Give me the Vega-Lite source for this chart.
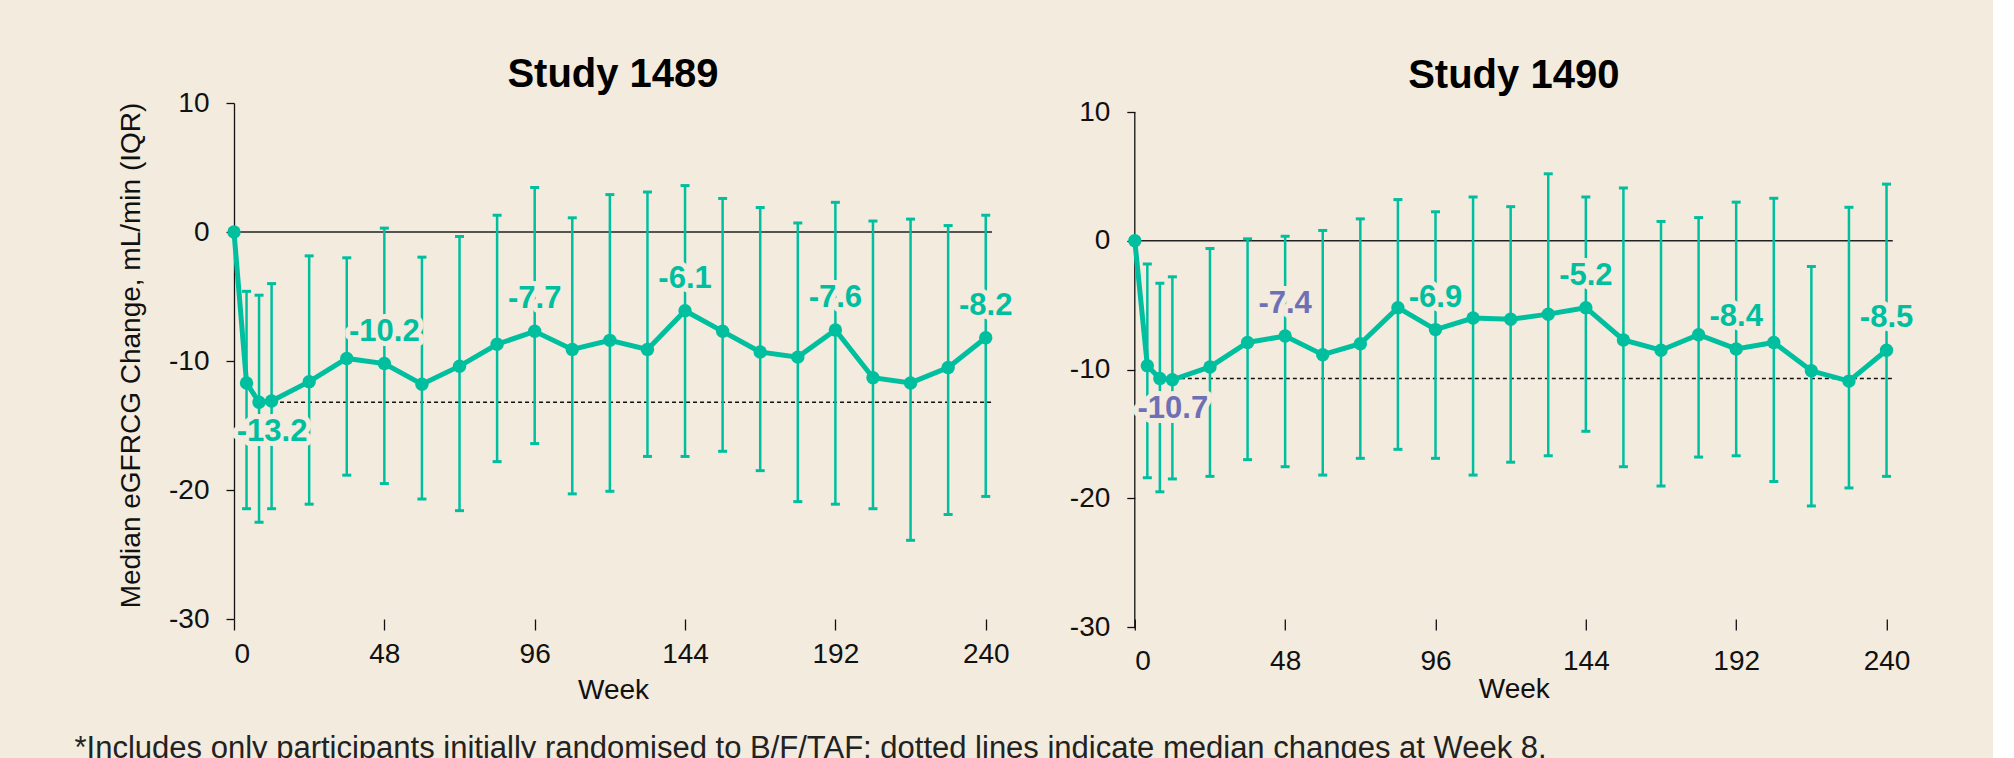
{
  "$schema": "https://vega.github.io/schema/vega-lite/v6.json",
  "background": "#F3EBDE",
  "padding": {"left": 74, "top": 55, "right": 79, "bottom": 0},
  "spacing": 55.8,
  "title": {
    "text": "*Includes only participants initially randomised to B/F/TAF; dotted lines indicate median changes at Week 8.",
    "orient": "bottom", "anchor": "start", "fontSize": 31, "fontWeight": "normal",
    "font": "Liberation Sans", "color": "#222222", "baseline": "top", "offset": 30, "dx": -43
  },
  "config": {
    "view": {"stroke": null},
    "font": "Liberation Sans",
    "axis": {
      "grid": false, "labelFontSize": 28, "labelColor": "#111111", "titleFontSize": 28,
      "titleFontWeight": "normal", "titleColor": "#111111", "tickColor": "#111111",
      "domainColor": "#111111", "tickWidth": 1.3, "domainWidth": 1.3, "labelFont": "Liberation Sans", "titleFont": "Liberation Sans"
    },
    "title": {"font": "Liberation Sans", "color": "#000000"}
  },
  "datasets": {
    "s1489": [
      {"week": 0, "median": 0},
      {"week": 4, "median": -11.7, "low": -21.45, "high": -4.6},
      {"week": 8, "median": -13.2, "low": -22.5, "high": -4.9, "label": "-13.2", "side": "below", "highlight": false},
      {"week": 12, "median": -13.1, "low": -21.45, "high": -4.0},
      {"week": 24, "median": -11.6, "low": -21.1, "high": -1.85},
      {"week": 36, "median": -9.8, "low": -18.85, "high": -2.0},
      {"week": 48, "median": -10.2, "low": -19.5, "high": 0.3, "label": "-10.2", "side": "above", "highlight": false},
      {"week": 60, "median": -11.8, "low": -20.7, "high": -1.95},
      {"week": 72, "median": -10.4, "low": -21.6, "high": -0.35},
      {"week": 84, "median": -8.7, "low": -17.8, "high": 1.3},
      {"week": 96, "median": -7.7, "low": -16.4, "high": 3.45, "label": "-7.7", "side": "above", "highlight": false},
      {"week": 108, "median": -9.1, "low": -20.3, "high": 1.1},
      {"week": 120, "median": -8.4, "low": -20.1, "high": 2.9},
      {"week": 132, "median": -9.1, "low": -17.4, "high": 3.1},
      {"week": 144, "median": -6.1, "low": -17.4, "high": 3.6, "label": "-6.1", "side": "above", "highlight": false},
      {"week": 156, "median": -7.7, "low": -17.0, "high": 2.6},
      {"week": 168, "median": -9.3, "low": -18.5, "high": 1.9},
      {"week": 180, "median": -9.7, "low": -20.9, "high": 0.7},
      {"week": 192, "median": -7.6, "low": -21.1, "high": 2.3, "label": "-7.6", "side": "above", "highlight": false},
      {"week": 204, "median": -11.3, "low": -21.45, "high": 0.85},
      {"week": 216, "median": -11.7, "low": -23.9, "high": 1.0},
      {"week": 228, "median": -10.5, "low": -21.9, "high": 0.5},
      {"week": 240, "median": -8.2, "low": -20.5, "high": 1.3, "label": "-8.2", "side": "above", "highlight": false}
    ],
    "s1490": [
      {"week": 0, "median": 0},
      {"week": 4, "median": -9.7, "low": -18.4, "high": -1.8},
      {"week": 8, "median": -10.7, "low": -19.5, "high": -3.3, "label": "-10.7", "side": "below", "highlight": true},
      {"week": 12, "median": -10.8, "low": -18.5, "high": -2.8},
      {"week": 24, "median": -9.8, "low": -18.3, "high": -0.6},
      {"week": 36, "median": -7.9, "low": -17.0, "high": 0.15},
      {"week": 48, "median": -7.4, "low": -17.55, "high": 0.35, "label": "-7.4", "side": "above", "highlight": true},
      {"week": 60, "median": -8.85, "low": -18.2, "high": 0.8},
      {"week": 72, "median": -8.0, "low": -16.9, "high": 1.7},
      {"week": 84, "median": -5.2, "low": -16.2, "high": 3.2},
      {"week": 96, "median": -6.9, "low": -16.9, "high": 2.25, "label": "-6.9", "side": "above", "highlight": false},
      {"week": 108, "median": -6.0, "low": -18.2, "high": 3.4},
      {"week": 120, "median": -6.1, "low": -17.2, "high": 2.65},
      {"week": 132, "median": -5.7, "low": -16.7, "high": 5.2},
      {"week": 144, "median": -5.2, "low": -14.8, "high": 3.4, "label": "-5.2", "side": "above", "highlight": false},
      {"week": 156, "median": -7.7, "low": -17.55, "high": 4.1},
      {"week": 168, "median": -8.5, "low": -19.05, "high": 1.5},
      {"week": 180, "median": -7.3, "low": -16.8, "high": 1.8},
      {"week": 192, "median": -8.4, "low": -16.7, "high": 3.0, "label": "-8.4", "side": "above", "highlight": false},
      {"week": 204, "median": -7.9, "low": -18.7, "high": 3.3},
      {"week": 216, "median": -10.1, "low": -20.6, "high": -2.0},
      {"week": 228, "median": -10.9, "low": -19.2, "high": 2.6},
      {"week": 240, "median": -8.5, "low": -18.3, "high": 4.4, "label": "-8.5", "side": "above", "highlight": false}
    ]
  },
  "hconcat": [
    {
      "width": 758, "height": 516,
      "data": {"name": "s1489"},
      "title": {"text": "Study 1489", "fontSize": 40, "fontWeight": "bold", "baseline": "alphabetic", "offset": -38, "anchor": "middle"},
      "layer": [
        {
          "data": {"values": [{}]},
          "mark": {"type": "rule", "color": "#222222", "strokeWidth": 1.3},
          "encoding": {"y": {"datum": 0, "type": "quantitative", "scale": {"domain": [-30, 10], "nice": false, "zero": false},
            "axis": {"values": [-30, -20, -10, 0, 10], "labelExpr": "datum.value + ''", "title": "Median eGFRCG Change, mL/min (IQR)", "titlePadding": 23, "titleY": 252, "tickSize": 8, "labelPadding": 17}}}
        },
        {
          "data": {"values": [{}]},
          "mark": {"type": "rule", "color": "#111111", "strokeWidth": 1.5, "strokeDash": [4, 3]},
          "encoding": {
            "x": {"datum": 8, "type": "quantitative", "scale": {"domain": [0, 242], "nice": false, "zero": false},
              "axis": {"values": [0, 48, 96, 144, 192, 240], "domain": false, "tickSize": 11, "labelPadding": 10, "title": "Week", "titlePadding": 8}},
            "x2": {"datum": 242},
            "y": {"datum": -13.2, "type": "quantitative"}
          }
        },
        {
          "mark": {"type": "rule", "color": "#00BF9F", "strokeWidth": 2.5},
          "encoding": {
            "x": {"field": "week", "type": "quantitative"},
            "y": {"field": "low", "type": "quantitative"},
            "y2": {"field": "high"}
          }
        },
        {
          "mark": {"type": "tick", "orient": "horizontal", "color": "#00BF9F", "size": 9, "thickness": 3, "opacity": 1},
          "encoding": {"x": {"field": "week", "type": "quantitative"}, "y": {"field": "low", "type": "quantitative"}}
        },
        {
          "mark": {"type": "tick", "orient": "horizontal", "color": "#00BF9F", "size": 9, "thickness": 3, "opacity": 1},
          "encoding": {"x": {"field": "week", "type": "quantitative"}, "y": {"field": "high", "type": "quantitative"}}
        },
        {
          "mark": {"type": "line", "color": "#00BF9F", "strokeWidth": 5},
          "encoding": {"x": {"field": "week", "type": "quantitative"}, "y": {"field": "median", "type": "quantitative"}}
        },
        {
          "mark": {"type": "circle", "color": "#00BF9F", "size": 180, "opacity": 1},
          "encoding": {"x": {"field": "week", "type": "quantitative"}, "y": {"field": "median", "type": "quantitative"}}
        },
        {
          "transform": [{"filter": "datum.side == 'above'"}],
          "mark": {"type": "text", "fontSize": 31, "fontWeight": "bold", "baseline": "alphabetic", "align": "center", "dy": -23, "fill": "#F3EBDE", "stroke": "#F3EBDE", "strokeWidth": 10, "strokeJoin": "round"},
          "encoding": {"x": {"field": "week", "type": "quantitative"}, "y": {"field": "median", "type": "quantitative"}, "text": {"field": "label"}}
        },
        {
          "transform": [{"filter": "datum.side == 'above'"}],
          "mark": {"type": "text", "fontSize": 31, "fontWeight": "bold", "baseline": "alphabetic", "align": "center", "dy": -23},
          "encoding": {"x": {"field": "week", "type": "quantitative"}, "y": {"field": "median", "type": "quantitative"}, "text": {"field": "label"},
            "color": {"condition": {"test": "datum.highlight", "value": "#6E70B6"}, "value": "#00BF9F"}}
        },
        {
          "transform": [{"filter": "datum.side == 'below'"}],
          "mark": {"type": "text", "fontSize": 31, "fontWeight": "bold", "baseline": "alphabetic", "align": "center", "dy": 39, "dx": 13, "fill": "#F3EBDE", "stroke": "#F3EBDE", "strokeWidth": 10, "strokeJoin": "round"},
          "encoding": {"x": {"field": "week", "type": "quantitative"}, "y": {"field": "median", "type": "quantitative"}, "text": {"field": "label"}}
        },
        {
          "transform": [{"filter": "datum.side == 'below'"}],
          "mark": {"type": "text", "fontSize": 31, "fontWeight": "bold", "baseline": "alphabetic", "align": "center", "dy": 39, "dx": 13},
          "encoding": {"x": {"field": "week", "type": "quantitative"}, "y": {"field": "median", "type": "quantitative"}, "text": {"field": "label"},
            "color": {"condition": {"test": "datum.highlight", "value": "#6E70B6"}, "value": "#00BF9F"}}
        }
      ]
    },
    {
      "width": 758, "height": 524,
      "data": {"name": "s1490"},
      "title": {"text": "Study 1490", "fontSize": 40, "fontWeight": "bold", "baseline": "alphabetic", "offset": -30, "anchor": "middle"},
      "layer": [
        {
          "data": {"values": [{}]},
          "mark": {"type": "rule", "color": "#222222", "strokeWidth": 1.3},
          "encoding": {"y": {"datum": 0, "type": "quantitative", "scale": {"domain": [-30, 10.7], "nice": false, "zero": false},
            "axis": {"values": [-30, -20, -10, 0, 10], "labelExpr": "datum.value + ''", "title": null, "domain": false, "tickSize": 8, "labelPadding": 17}}}
        },
        {
          "data": {"values": [{}]},
          "mark": {"type": "rule", "color": "#111111", "strokeWidth": 1.3},
          "encoding": {"x": {"datum": 0, "type": "quantitative"}, "y": {"datum": -30, "type": "quantitative"}, "y2": {"datum": 10}}
        },
        {
          "data": {"values": [{}]},
          "mark": {"type": "rule", "color": "#111111", "strokeWidth": 1.5, "strokeDash": [4, 3]},
          "encoding": {
            "x": {"datum": 8, "type": "quantitative", "scale": {"domain": [0, 242], "nice": false, "zero": false},
              "axis": {"values": [0, 48, 96, 144, 192, 240], "domain": false, "tickSize": 11, "offset": -8, "labelPadding": 17, "title": "Week", "titlePadding": 0}},
            "x2": {"datum": 242},
            "y": {"datum": -10.7, "type": "quantitative"}
          }
        },
        {
          "mark": {"type": "rule", "color": "#00BF9F", "strokeWidth": 2.5},
          "encoding": {
            "x": {"field": "week", "type": "quantitative"},
            "y": {"field": "low", "type": "quantitative"},
            "y2": {"field": "high"}
          }
        },
        {
          "mark": {"type": "tick", "orient": "horizontal", "color": "#00BF9F", "size": 9, "thickness": 3, "opacity": 1},
          "encoding": {"x": {"field": "week", "type": "quantitative"}, "y": {"field": "low", "type": "quantitative"}}
        },
        {
          "mark": {"type": "tick", "orient": "horizontal", "color": "#00BF9F", "size": 9, "thickness": 3, "opacity": 1},
          "encoding": {"x": {"field": "week", "type": "quantitative"}, "y": {"field": "high", "type": "quantitative"}}
        },
        {
          "mark": {"type": "line", "color": "#00BF9F", "strokeWidth": 5},
          "encoding": {"x": {"field": "week", "type": "quantitative"}, "y": {"field": "median", "type": "quantitative"}}
        },
        {
          "mark": {"type": "circle", "color": "#00BF9F", "size": 180, "opacity": 1},
          "encoding": {"x": {"field": "week", "type": "quantitative"}, "y": {"field": "median", "type": "quantitative"}}
        },
        {
          "transform": [{"filter": "datum.side == 'above'"}],
          "mark": {"type": "text", "fontSize": 31, "fontWeight": "bold", "baseline": "alphabetic", "align": "center", "dy": -23, "fill": "#F3EBDE", "stroke": "#F3EBDE", "strokeWidth": 10, "strokeJoin": "round"},
          "encoding": {"x": {"field": "week", "type": "quantitative"}, "y": {"field": "median", "type": "quantitative"}, "text": {"field": "label"}}
        },
        {
          "transform": [{"filter": "datum.side == 'above'"}],
          "mark": {"type": "text", "fontSize": 31, "fontWeight": "bold", "baseline": "alphabetic", "align": "center", "dy": -23},
          "encoding": {"x": {"field": "week", "type": "quantitative"}, "y": {"field": "median", "type": "quantitative"}, "text": {"field": "label"},
            "color": {"condition": {"test": "datum.highlight", "value": "#6E70B6"}, "value": "#00BF9F"}}
        },
        {
          "transform": [{"filter": "datum.side == 'below'"}],
          "mark": {"type": "text", "fontSize": 31, "fontWeight": "bold", "baseline": "alphabetic", "align": "center", "dy": 39, "dx": 13, "fill": "#F3EBDE", "stroke": "#F3EBDE", "strokeWidth": 10, "strokeJoin": "round"},
          "encoding": {"x": {"field": "week", "type": "quantitative"}, "y": {"field": "median", "type": "quantitative"}, "text": {"field": "label"}}
        },
        {
          "transform": [{"filter": "datum.side == 'below'"}],
          "mark": {"type": "text", "fontSize": 31, "fontWeight": "bold", "baseline": "alphabetic", "align": "center", "dy": 39, "dx": 13},
          "encoding": {"x": {"field": "week", "type": "quantitative"}, "y": {"field": "median", "type": "quantitative"}, "text": {"field": "label"},
            "color": {"condition": {"test": "datum.highlight", "value": "#6E70B6"}, "value": "#00BF9F"}}
        }
      ]
    }
  ]
}
